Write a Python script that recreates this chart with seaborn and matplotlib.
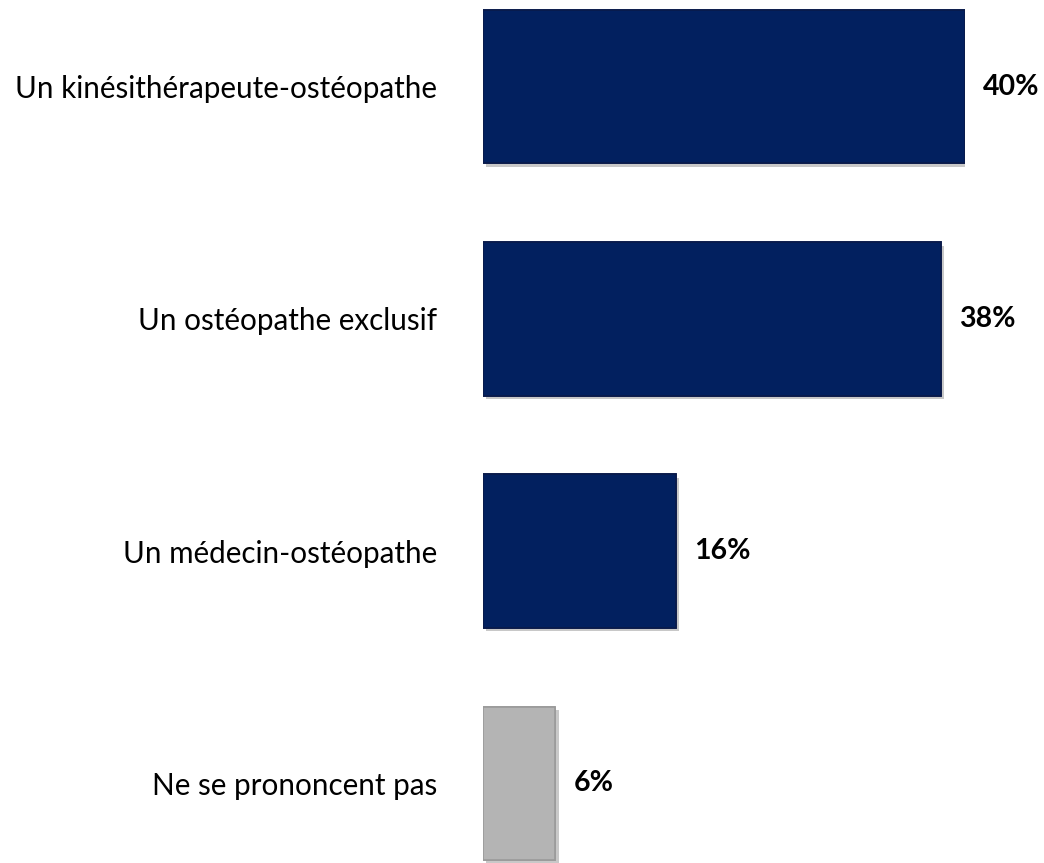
import matplotlib
matplotlib.use("Agg")
import matplotlib.pyplot as plt
import matplotlib.patheffects as pe
import seaborn as sns
import pandas as pd

categories = ["Un kinésithérapeute-ostéopathe", "Un ostéopathe exclusif",
              "Un médecin-ostéopathe", "Ne se prononcent pas"]
values = [40, 38, 16, 6]
labels = ["40%", "38%", "16%", "6%"]
colors = ["#02205f", "#02205f", "#02205f", "#b4b4b4"]
edges = ["#0a1a4a", "#0a1a4a", "#0a1a4a", "#9a9a9a"]

sns.set_theme(style="white")
plt.rcParams['font.family'] = ['Lato', 'DejaVu Sans']

df = pd.DataFrame({"cat": categories, "val": values})
W, H = 1044, 863
fig = plt.figure(figsize=(W / 100, H / 100), dpi=100)
ax = fig.add_axes([483 / W, 0, (965 - 483) / W, 1])

sns.barplot(data=df, y="cat", x="val", hue="cat", palette=dict(zip(categories, colors)),
            orient="h", width=0.66, legend=False, ax=ax, saturation=1)

for p, ec in zip(ax.patches, edges):
    p.set_edgecolor(ec)
    p.set_linewidth(1.2)
    p.set_path_effects([pe.withSimplePatchShadow(offset=(2.5, -2.5), shadow_rgbFace="#777777", alpha=0.4),
                        pe.Normal()])

ax.set_xlim(0, 40)
ax.set_ylim(3 + (H - 783.5) / 232.3, -86.5 / 232.3)
ax.set_xlabel("")
ax.set_ylabel("")
ax.set_xticks([])
ax.tick_params(axis="y", length=0, pad=33, labelsize=21.3, labelcolor="black")
for s in ax.spines.values():
    s.set_visible(False)

for i, (v, t) in enumerate(zip(values, labels)):
    ax.annotate(t, xy=(v, i), xytext=(18, 0), textcoords="offset pixels",
                ha="left", va="center", fontsize=20.5, fontweight="bold", color="black",
                annotation_clip=False)

fig.savefig("out.png", dpi=100)
